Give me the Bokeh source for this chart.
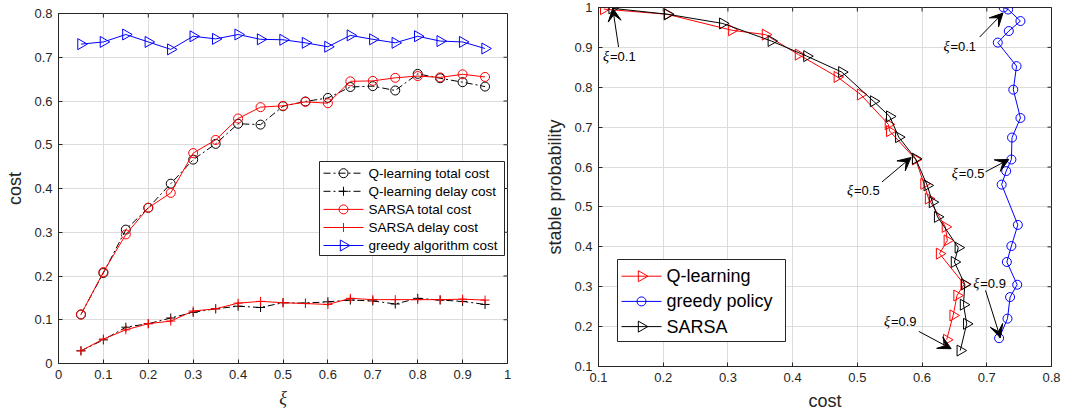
from bokeh.plotting import figure
from bokeh.layouts import row, column
from bokeh.models import (Range1d, FixedTicker, CustomJSTickFormatter,
                          Arrow, VeeHead, ColumnDataSource)
from bokeh.embed import file_html
from bokeh.resources import INLINE
from bokeh.core.properties import value
import math

# ---------------- data: left panel (cost vs xi) ----------------
xi = [0.05, 0.10, 0.15, 0.20, 0.25, 0.30, 0.35, 0.40, 0.45, 0.50,
      0.55, 0.60, 0.65, 0.70, 0.75, 0.80, 0.85, 0.90, 0.95]
q_total = [0.112, 0.207, 0.306, 0.356, 0.411, 0.466, 0.502, 0.548, 0.546, 0.588,
           0.599, 0.607, 0.632, 0.634, 0.624, 0.662, 0.652, 0.643, 0.633]
q_delay = [0.029, 0.054, 0.083, 0.091, 0.104, 0.117, 0.125, 0.131, 0.128, 0.139,
           0.138, 0.141, 0.145, 0.143, 0.136, 0.149, 0.145, 0.142, 0.135]
sarsa_total = [0.112, 0.209, 0.295, 0.356, 0.390, 0.481, 0.511, 0.560, 0.586, 0.589,
               0.598, 0.595, 0.645, 0.646, 0.653, 0.657, 0.654, 0.661, 0.655]
sarsa_delay = [0.029, 0.056, 0.077, 0.091, 0.097, 0.120, 0.125, 0.138, 0.142, 0.139,
               0.137, 0.135, 0.149, 0.146, 0.146, 0.146, 0.146, 0.147, 0.145]
greedy_total = [0.730, 0.735, 0.752, 0.735, 0.718, 0.748, 0.742, 0.752, 0.741, 0.740,
                0.733, 0.724, 0.750, 0.741, 0.733, 0.748, 0.737, 0.735, 0.720]

# ---------------- data: right panel (stable probability vs cost) ----------------
q_cost = [0.108, 0.206, 0.306, 0.358, 0.409, 0.469, 0.505, 0.548, 0.550, 0.590,
          0.603, 0.610, 0.636, 0.639, 0.627, 0.665, 0.654, 0.648, 0.638]
q_prob = [0.996, 0.983, 0.943, 0.932, 0.882, 0.826, 0.782, 0.707, 0.690, 0.619,
          0.558, 0.521, 0.450, 0.416, 0.383, 0.306, 0.278, 0.228, 0.167]
sarsa_cost = [0.121, 0.207, 0.292, 0.367, 0.422, 0.476, 0.525, 0.550, 0.564, 0.590,
              0.608, 0.616, 0.624, 0.656, 0.650, 0.666, 0.664, 0.669, 0.659]
sarsa_prob = [0.998, 0.983, 0.960, 0.916, 0.878, 0.838, 0.765, 0.727, 0.675, 0.621,
              0.554, 0.512, 0.475, 0.398, 0.362, 0.306, 0.255, 0.207, 0.140]
greedy_cost = [0.726, 0.733, 0.752, 0.734, 0.717, 0.746, 0.741, 0.752, 0.739, 0.738,
               0.730, 0.723, 0.748, 0.738, 0.731, 0.747, 0.736, 0.732, 0.719]
greedy_prob = [1.000, 0.995, 0.966, 0.941, 0.912, 0.853, 0.794, 0.723, 0.674, 0.619,
               0.590, 0.556, 0.455, 0.402, 0.362, 0.305, 0.274, 0.220, 0.171]

# annotations on right panel
ann_value = ["=0.1", "=0.1", "=0.5", "=0.5", "=0.9", "=0.9"]
ann_text_x = [0.107, 0.633, 0.484, 0.646, 0.541, 0.679]
ann_text_y = [0.877, 0.903, 0.542, 0.583, 0.214, 0.308]
arrow_x0 = [0.131, 0.689, 0.538, 0.698, 0.595, 0.698]
arrow_y0 = [0.901, 0.926, 0.5625, 0.588, 0.188, 0.291]
arrow_x1 = [0.122, 0.725, 0.583, 0.734, 0.645, 0.721]
arrow_y1 = [0.998, 0.986, 0.624, 0.619, 0.1445, 0.172]

# legend labels
left_legend_labels = ["Q-learning total cost", "Q-learning delay cost", "SARSA total cost",
                      "SARSA delay cost", "greedy algorithm cost"]
right_legend_labels = ["Q-learning", "greedy policy", "SARSA"]

# ticks
left_xticks = [0, 0.1, 0.2, 0.3, 0.4, 0.5, 0.6, 0.7, 0.8, 0.9, 1.0]
left_yticks = [0, 0.1, 0.2, 0.3, 0.4, 0.5, 0.6, 0.7, 0.8]
right_xticks = [0.1, 0.2, 0.3, 0.4, 0.5, 0.6, 0.7, 0.8]
right_yticks = [0.1, 0.2, 0.3, 0.4, 0.5, 0.6, 0.7, 0.8, 0.9, 1.0]

FONT = "Liberation Sans"
SERIF = "Liberation Serif"
AX = "#262626"
GRID = "#dcdcdc"
TRI_ANGLE = -math.pi / 2
DASHDOT = "7 3 2 3"
TICK_LEN = 4

fmt_code = "return (Math.round(tick*10)/10).toString();"


def style(p, xt, yt, xr, yr, fw, fh):
    p.outline_line_color = AX
    p.outline_line_width = 1
    p.background_fill_color = "white"
    p.border_fill_color = "white"
    xa, ya = p.xaxis[0], p.yaxis[0]
    xa.ticker = FixedTicker(ticks=xt)
    ya.ticker = FixedTicker(ticks=yt)
    p.xgrid.ticker = FixedTicker(ticks=xt)
    p.ygrid.ticker = FixedTicker(ticks=yt)
    for g in (p.xgrid, p.ygrid):
        g.grid_line_color = GRID
        g.grid_line_width = 1
    for ax in (xa, ya):
        ax.formatter = CustomJSTickFormatter(code=fmt_code)
        ax.major_label_text_font = FONT
        ax.major_label_text_font_size = "13px"
        ax.major_label_text_color = AX
        ax.axis_line_color = AX
        ax.major_tick_line_color = AX
        ax.major_tick_in = TICK_LEN
        ax.major_tick_out = 0
        ax.minor_tick_line_color = None
        ax.axis_label_text_font = FONT
        ax.axis_label_text_font_size = "18px"
        ax.axis_label_text_font_style = "normal"
        ax.axis_label_text_color = AX
        ax.major_label_standoff = 6
        ax.axis_label_standoff = 6
    # mirrored inward ticks on the top and right edges of the box
    dy = TICK_LEN / fh * (yr[1] - yr[0])
    dx = TICK_LEN / fw * (xr[1] - xr[0])
    p.segment(x0=xt, x1=xt, y0=[yr[1]] * len(xt), y1=[yr[1] - dy] * len(xt),
              line_color=AX, line_width=1)
    p.segment(x0=[xr[1]] * len(yt), x1=[xr[1] - dx] * len(yt), y0=yt, y1=yt,
              line_color=AX, line_width=1)
    return xa, ya


def draw_legend(p, xr, yr, fw, fh, box, rows, entries, font_size):
    """Legend drawn in the frame; box = (left, top, width, height) in px from frame top-left."""
    L, T, W, H = box
    X = lambda px: xr[0] + px / fw * (xr[1] - xr[0])
    Y = lambda py: yr[1] - py / fh * (yr[1] - yr[0])
    p.quad(left=[X(L)], right=[X(L + W)], top=[Y(T)], bottom=[Y(T + H)],
           fill_color="white", line_color=AX, line_width=1)
    for (label, color, dash, marker, msize, ang), ry in zip(entries, rows):
        yy = Y(T + ry)
        p.line([X(L + 4), X(L + 44)], [yy, yy], line_color=color, line_dash=dash, line_width=1)
        p.scatter([X(L + 24)], [yy], marker=marker, angle=ang, size=msize, fill_color=None,
                  line_color=color, line_width=1)
        p.text([X(L + 49)], [yy], text=[label], text_font=value(FONT),
               text_font_size=font_size, text_baseline="middle", text_align="left",
               text_color="black")


# ---------------- left figure ----------------
L_FW, L_FH = 449, 350
L_XR, L_YR = (0, 1), (0, 0.8)
p1 = figure(title=None, frame_width=L_FW, frame_height=L_FH, output_backend="svg",
            toolbar_location=None, x_range=Range1d(*L_XR), y_range=Range1d(*L_YR),
            min_border_left=58, min_border_right=33, min_border_top=13, min_border_bottom=53)
xa1, ya1 = style(p1, left_xticks, left_yticks, L_XR, L_YR, L_FW, L_FH)
xa1.axis_label = "ξ"
xa1.axis_label_text_font = SERIF
xa1.axis_label_text_font_style = "italic"
ya1.axis_label = "cost"

p1.line(xi, q_total, line_color="black", line_width=1, line_dash=DASHDOT)
p1.scatter(xi, q_total, marker="circle", size=9, fill_color=None, line_color="black", line_width=1)
p1.line(xi, q_delay, line_color="black", line_width=1, line_dash=DASHDOT)
p1.scatter(xi, q_delay, marker="cross", size=9, line_color="black", line_width=1)
p1.line(xi, sarsa_total, line_color="red", line_width=1)
p1.scatter(xi, sarsa_total, marker="circle", size=9, fill_color=None, line_color="red", line_width=1)
p1.line(xi, sarsa_delay, line_color="red", line_width=1)
p1.scatter(xi, sarsa_delay, marker="cross", size=9, line_color="red", line_width=1)
p1.line(xi, greedy_total, line_color="blue", line_width=1)
p1.scatter(xi, greedy_total, marker="triangle", angle=TRI_ANGLE, size=11, fill_color=None,
           line_color="blue", line_width=1)

left_styles = [("black", DASHDOT, "circle", 9, 0), ("black", DASHDOT, "cross", 9, 0),
               ("red", "solid", "circle", 9, 0), ("red", "solid", "cross", 9, 0),
               ("blue", "solid", "triangle", 11, TRI_ANGLE)]
draw_legend(p1, L_XR, L_YR, L_FW, L_FH, (261, 148, 185, 94), [11.7, 29.8, 47.9, 66.0, 84.0],
            [(lab,) + s for lab, s in zip(left_legend_labels, left_styles)], "13.5px")

# ---------------- right figure ----------------
R_FW, R_FH = 453, 359
R_XR, R_YR = (0.1, 0.8), (0.1, 1.0)
p2 = figure(title=None, frame_width=R_FW, frame_height=R_FH, output_backend="svg",
            toolbar_location=None, x_range=Range1d(*R_XR), y_range=Range1d(*R_YR),
            min_border_left=58, min_border_right=15, min_border_top=7, min_border_bottom=50)
xa2, ya2 = style(p2, right_xticks, right_yticks, R_XR, R_YR, R_FW, R_FH)
xa2.axis_label = "cost"
ya2.axis_label = "stable probability"

p2.line(q_cost, q_prob, line_color="red", line_width=1)
p2.scatter(q_cost, q_prob, marker="triangle", angle=TRI_ANGLE, size=11, fill_color=None,
           line_color="red", line_width=1)
p2.line(greedy_cost, greedy_prob, line_color="blue", line_width=1)
p2.scatter(greedy_cost, greedy_prob, marker="circle", size=9, fill_color=None,
           line_color="blue", line_width=1)
p2.line(sarsa_cost, sarsa_prob, line_color="black", line_width=1)
p2.scatter(sarsa_cost, sarsa_prob, marker="triangle", angle=TRI_ANGLE, size=11, fill_color=None,
           line_color="black", line_width=1)

# arrows
for i in range(len(arrow_x0)):
    p2.add_layout(Arrow(x_start=arrow_x0[i], y_start=arrow_y0[i],
                        x_end=arrow_x1[i], y_end=arrow_y1[i],
                        line_color="black", line_width=1,
                        end=VeeHead(size=13, fill_color="black", line_color="black")))

ann_src = ColumnDataSource(dict(x=ann_text_x, y=ann_text_y, v=ann_value,
                                xi=["ξ"] * len(ann_value)))
p2.text(x="x", y="y", text="xi", source=ann_src, text_font=value(SERIF),
        text_font_style="italic", text_font_size="14px", text_baseline="middle",
        text_align="left", text_color="black")
p2.text(x="x", y="y", text="v", source=ann_src, text_font=value(FONT),
        text_font_size="13px", text_baseline="middle", text_align="left",
        text_color="black", x_offset=7)

right_styles = [("red", "solid", "triangle", 11, TRI_ANGLE), ("blue", "solid", "circle", 9, 0),
                ("black", "solid", "triangle", 11, TRI_ANGLE)]
draw_legend(p2, R_XR, R_YR, R_FW, R_FH, (19, 252, 168, 82), [16.7, 41.9, 67.1],
            [(lab,) + s for lab, s in zip(right_legend_labels, right_styles)], "18px")

layout = row(column(p1), column(p2), spacing=0)
open("out.html", "w").write(file_html(layout, INLINE))
